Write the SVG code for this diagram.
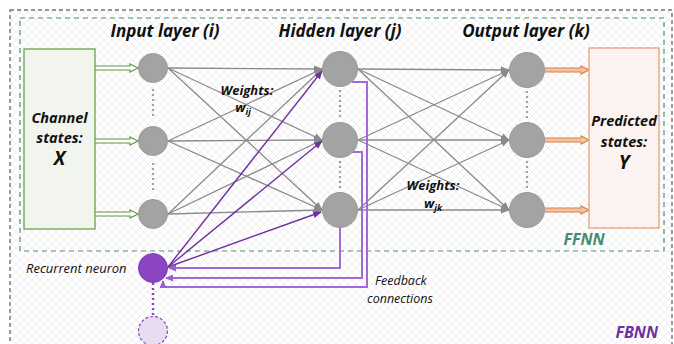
<svg xmlns="http://www.w3.org/2000/svg" width="674" height="344" viewBox="0 0 674 344">
<defs>
<pattern id="hatch" width="8" height="8" patternUnits="userSpaceOnUse"><path d="M0,0 L8,8 M8,0 L0,8" stroke="#e3e3e3" stroke-width="0.6" fill="none"/></pattern>
<marker id="ag" markerWidth="9" markerHeight="8" refX="8" refY="4" orient="auto" markerUnits="userSpaceOnUse"><path d="M0,0.5 L9,4 L0,7.5z" fill="#8a8a8a"/></marker>
<marker id="ap" markerWidth="9" markerHeight="8" refX="8" refY="4" orient="auto" markerUnits="userSpaceOnUse"><path d="M0,0.5 L9,4 L0,7.5z" fill="#7030a0"/></marker>
<marker id="al" markerWidth="8" markerHeight="7" refX="7" refY="3.5" orient="auto" markerUnits="userSpaceOnUse"><path d="M0,0 L8,3.5 L0,7z" fill="#9b5fd0"/></marker>
</defs>
<style>
.t{font-family:"Open Sans",Lato,"Liberation Sans",sans-serif;font-style:italic;fill:#111}
.b{font-weight:bold}
.g{stroke:#8a8a8a;stroke-width:1.3;fill:none}
.dot{stroke:#a0a0a0;stroke-width:2.2;stroke-dasharray:2 3;fill:none}
.neu{fill:#a3a3a3;stroke:#999}
.pl{stroke:#7030a0;stroke-width:1.4;fill:none}
.fb{stroke:#a469d8;stroke-width:2;fill:none}
</style>
<rect width="674" height="344" fill="#fff"/>
<rect x="10" y="10" width="662" height="340" fill="url(#hatch)" stroke="#7b6c87" stroke-width="1.4" stroke-dasharray="4 3"/>
<rect x="20" y="18" width="644" height="233" fill="none" stroke="#4f8f72" stroke-width="1.2" stroke-dasharray="5 4"/>

<g id="connectors">
<line class="g" x1="168" y1="68" x2="322" y2="69" marker-end="url(#ag)"/>
<line class="g" x1="168" y1="68" x2="322" y2="140" marker-end="url(#ag)"/>
<line class="g" x1="168" y1="68" x2="322" y2="210" marker-end="url(#ag)"/>
<line class="g" x1="168" y1="141" x2="322" y2="69" marker-end="url(#ag)"/>
<line class="g" x1="168" y1="141" x2="322" y2="140" marker-end="url(#ag)"/>
<line class="g" x1="168" y1="141" x2="322" y2="210" marker-end="url(#ag)"/>
<line class="g" x1="168" y1="214" x2="322" y2="69" marker-end="url(#ag)"/>
<line class="g" x1="168" y1="214" x2="322" y2="140" marker-end="url(#ag)"/>
<line class="g" x1="168" y1="214" x2="322" y2="210" marker-end="url(#ag)"/>
<line class="g" x1="358" y1="69" x2="509" y2="70" marker-end="url(#ag)"/>
<line class="g" x1="358" y1="69" x2="509" y2="140" marker-end="url(#ag)"/>
<line class="g" x1="358" y1="69" x2="509" y2="210" marker-end="url(#ag)"/>
<line class="g" x1="358" y1="140" x2="509" y2="70" marker-end="url(#ag)"/>
<line class="g" x1="358" y1="140" x2="509" y2="140" marker-end="url(#ag)"/>
<line class="g" x1="358" y1="140" x2="509" y2="210" marker-end="url(#ag)"/>
<line class="g" x1="358" y1="210" x2="509" y2="70" marker-end="url(#ag)"/>
<line class="g" x1="358" y1="210" x2="509" y2="140" marker-end="url(#ag)"/>
<line class="g" x1="358" y1="210" x2="509" y2="210" marker-end="url(#ag)"/>
<!-- input arrows -->
<path d="M95,66 H130 V64 L138,68 L130,72 V70 H95" fill="#fff" stroke="#5b9a3c" stroke-width="1.1"/>
<path d="M95,139 H130 V137 L138,141 L130,145 V143 H95" fill="#fff" stroke="#5b9a3c" stroke-width="1.1"/>
<path d="M95,212 H130 V210 L138,214 L130,218 V216 H95" fill="#fff" stroke="#5b9a3c" stroke-width="1.1"/>
<!-- output arrows -->
<path d="M545,68 H581 V66 L589,70 L581,74 V72 H545" fill="#f2c4a4" stroke="#d9804a" stroke-width="1.1"/>
<path d="M545,138 H581 V136 L589,140 L581,144 V142 H545" fill="#f2c4a4" stroke="#d9804a" stroke-width="1.1"/>
<path d="M545,208 H581 V206 L589,210 L581,214 V212 H545" fill="#f2c4a4" stroke="#d9804a" stroke-width="1.1"/>
<!-- dotted -->
<line class="dot" x1="153" y1="89" x2="153" y2="119"/>
<line class="dot" x1="153" y1="163" x2="153" y2="193"/>
<line class="dot" x1="340" y1="90" x2="340" y2="119"/>
<line class="dot" x1="340" y1="161" x2="340" y2="190"/>
<line class="dot" x1="527" y1="91" x2="527" y2="119"/>
<line class="dot" x1="527" y1="161" x2="527" y2="190"/>
<line x1="153" y1="283" x2="153" y2="316" stroke="#8b44c4" stroke-width="2.4" stroke-dasharray="2 3"/>
<!-- recurrent to hidden -->
<line class="pl" x1="168" y1="267" x2="322" y2="71" marker-end="url(#ap)"/>
<line class="pl" x1="168" y1="267" x2="322" y2="141" marker-end="url(#ap)"/>
<line class="pl" x1="168" y1="267" x2="321" y2="212" marker-end="url(#ap)"/>
<!-- feedback -->
<path class="fb" d="M340,228 V268 H169" marker-end="url(#al)"/>
<path class="fb" d="M352,152 H362 V278 H166" marker-end="url(#al)"/>
<path class="fb" d="M352,82 H367 V287 H163 V281" marker-end="url(#al)"/>
</g>

<g id="input-box">
<rect x="24" y="49" width="71" height="180" fill="#f1f5ee" stroke="#6aa24a" stroke-width="1.3"/>
<text class="t b" x="59.5" y="123" font-size="14.5" text-anchor="middle">Channel</text>
<text class="t b" x="59.5" y="143" font-size="14.5" text-anchor="middle">states:</text>
<text class="t b" x="59.5" y="165" font-size="19" text-anchor="middle">X</text>
</g>
<g id="output-box">
<rect x="589" y="48" width="70" height="180" fill="#fcf3f0" stroke="#e3a07a" stroke-width="1.3"/>
<text class="t b" x="624" y="126" font-size="14.5" text-anchor="middle">Predicted</text>
<text class="t b" x="624" y="147" font-size="14.5" text-anchor="middle">states:</text>
<text class="t b" x="624" y="169" font-size="19" text-anchor="middle">Y</text>
</g>
<g id="titles">
<text class="t b" x="165" y="37" font-size="17" text-anchor="middle">Input layer (i)</text>
<text class="t b" x="340" y="37" font-size="17" text-anchor="middle">Hidden layer (j)</text>
<text class="t b" x="526" y="37" font-size="17" text-anchor="middle">Output layer (k)</text>
</g>
<g id="input-neurons">
<circle class="neu" cx="153" cy="68" r="14.5"/>
<circle class="neu" cx="153" cy="141" r="14.5"/>
<circle class="neu" cx="153" cy="214" r="14.5"/>
</g>
<g id="hidden-neurons">
<circle class="neu" cx="340" cy="69" r="17.5"/>
<circle class="neu" cx="340" cy="140" r="17.5"/>
<circle class="neu" cx="340" cy="210" r="17.5"/>
</g>
<g id="output-neurons">
<circle class="neu" cx="527" cy="70" r="17.5"/>
<circle class="neu" cx="527" cy="140" r="17.5"/>
<circle class="neu" cx="527" cy="210" r="17.5"/>
</g>
<g id="recurrent-neuron">
<circle cx="153" cy="268" r="14.5" fill="#8b44c4" stroke="#7a36b3"/>
<text class="t" x="26" y="273" font-size="13">Recurrent neuron</text>
</g>
<g id="next-recurrent">
<circle cx="153" cy="331" r="14.5" fill="#e8dcf0" stroke="#8b44c4" stroke-width="1.2" stroke-dasharray="3 2"/>
</g>
<g id="labels">
<text class="t b" x="247" y="95" font-size="13" text-anchor="middle">Weights:</text>
<text class="t b" x="243" y="112" font-size="13" text-anchor="middle">w<tspan font-size="9" dy="3">ij</tspan></text>
<text class="t b" x="433" y="190" font-size="13" text-anchor="middle">Weights:</text>
<text class="t b" x="433" y="208" font-size="13" text-anchor="middle">w<tspan font-size="9" dy="3">jk</tspan></text>
<text class="t" x="375" y="285" font-size="12.5">Feedback</text>
<text class="t" x="367" y="303" font-size="12.5">connections</text>
<text class="t b" x="584" y="245" font-size="16" text-anchor="middle" style="fill:#4a8a6e">FFNN</text>
<text class="t b" x="658" y="338" font-size="16" text-anchor="end" style="fill:#7030a0">FBNN</text>
</g>
</svg>
